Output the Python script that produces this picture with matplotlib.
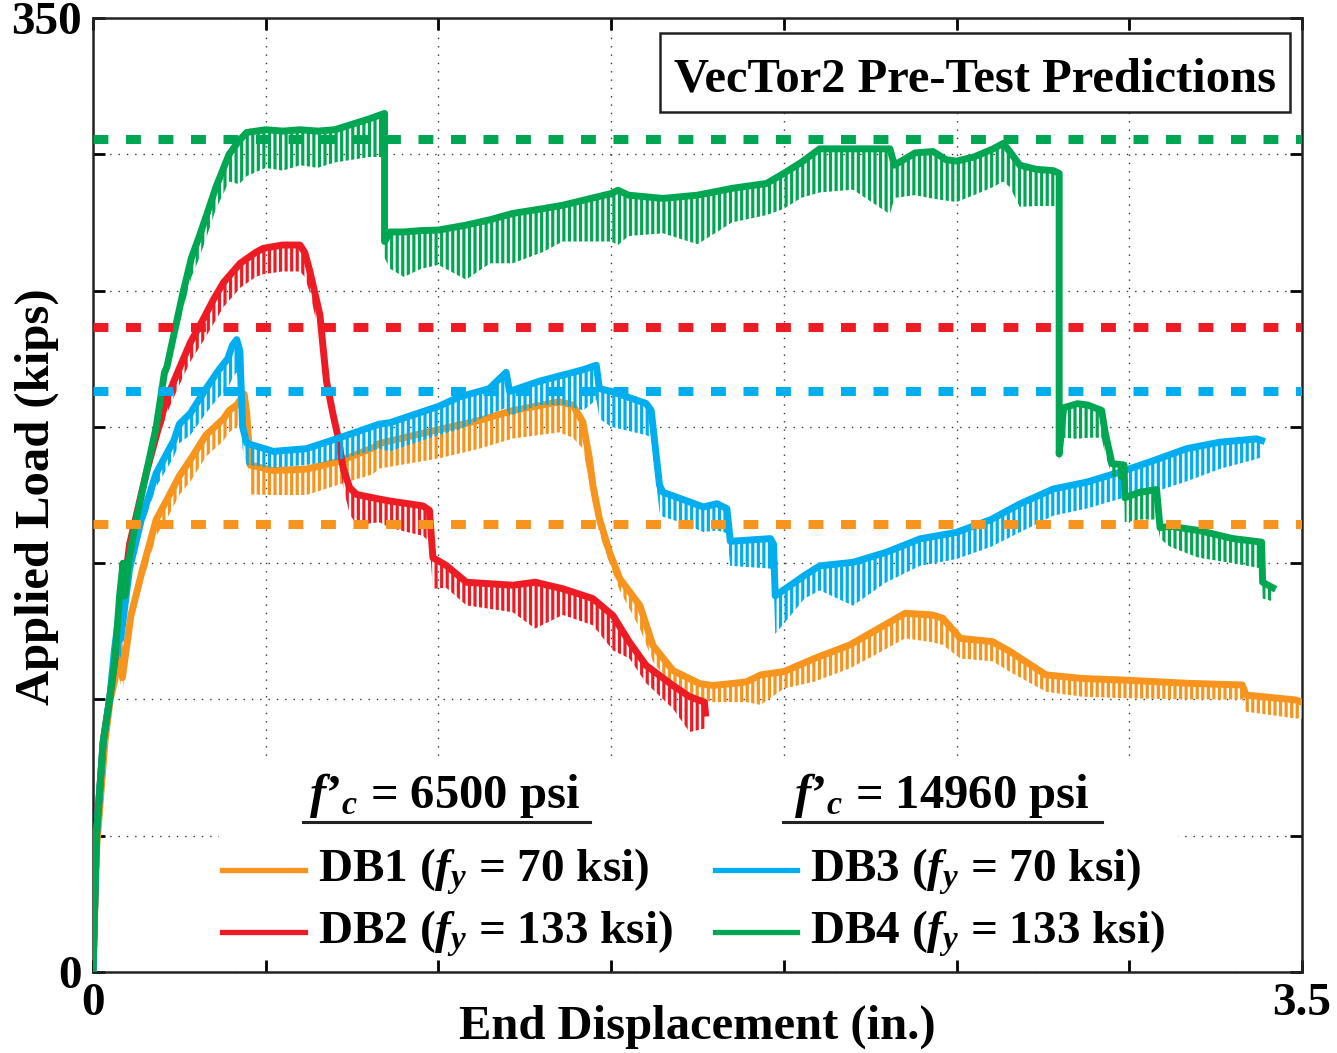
import numpy as np
import matplotlib
matplotlib.use('Agg')
import matplotlib.pyplot as plt
from matplotlib.lines import Line2D
from matplotlib.patches import Rectangle

plt.rcParams['font.family'] = ['Liberation Serif', 'DejaVu Serif']
plt.rcParams['font.weight'] = 'bold'
plt.rcParams['mathtext.fontset'] = 'custom'
plt.rcParams['mathtext.rm'] = 'Liberation Serif:bold'
plt.rcParams['mathtext.it'] = 'Liberation Serif:italic:bold'
plt.rcParams['mathtext.bf'] = 'Liberation Serif:bold'
plt.rcParams['hatch.linewidth'] = 2.3

# ---------------- data ----------------
# DB1 (orange)
db1_x = [0, 0.010, 0.035, 0.05, 0.063, 0.075, 0.085, 0.11, 0.144, 0.183, 0.217, 0.25, 0.282,
         0.327, 0.378, 0.394, 0.416, 0.4375, 0.445, 0.455, 0.522, 0.618, 0.714, 0.81, 0.829,
         1.0, 1.119, 1.215, 1.35, 1.389, 1.418, 1.437, 1.447, 1.466, 1.495, 1.525, 1.583,
         1.621, 1.679, 1.756, 1.795, 1.891, 1.933, 2.0, 2.088, 2.191, 2.274, 2.351, 2.429,
         2.46, 2.511, 2.604, 2.656, 2.759, 2.863, 3.0, 3.172, 3.327, 3.338, 3.482, 3.5]
db1_top = [0, 45, 85, 100, 107, 121, 108, 131, 148, 166, 174, 182, 188,
           197, 203, 206, 208, 212, 205, 186, 184, 184.5, 187.4, 192.3, 193.9,
           199, 202.4, 206, 209.2, 208, 201.8, 188.4, 178.6, 166.3, 154.1, 144.3, 134.5,
           119.8, 110.6, 105.8, 105.1, 106.4, 109, 110.2, 115, 120, 126, 131.6, 131,
           129.8, 122.4, 121.2, 117.5, 109, 107.7, 107, 105.9, 105.3, 101.6, 99.8, 99]
db1_low = [0, 45, 85, 98, 104, 110, 101.8, 126, 143, 160, 167, 175, 180,
           189, 195, 198, 200, 203, 196, 175.2, 175, 175, 178.9, 182.6, 184.7,
           188.4, 192, 195.7, 198, 196, 192, 180, 172, 161, 150, 140, 126,
           114, 104, 100, 99, 99, 98, 104, 106.5, 111.4, 117, 122.4, 121,
           120, 115, 114, 110, 102.8, 101, 100.4, 100, 100, 95.5, 93, 93]

# DB2 (red)
db2_x = [0, 0.010, 0.030, 0.048, 0.077, 0.106, 0.154, 0.186, 0.214, 0.245, 0.282, 0.317, 0.35,
         0.378, 0.426, 0.471, 0.493, 0.548, 0.599, 0.613, 0.628, 0.657, 0.667, 0.676, 0.695,
         0.71, 0.724, 0.743, 0.763, 0.829, 0.859, 0.955, 0.974, 0.984, 1.022, 1.081, 1.215,
         1.28, 1.36, 1.447, 1.505, 1.553, 1.601, 1.679, 1.727, 1.77, 1.773]
db2_top = [0, 50, 85, 100, 128, 157, 183, 198, 210.6, 220, 231, 239, 247,
           253, 260, 264, 265.5, 266.7, 266.7, 264, 257, 241, 228, 216.7, 204.5,
           196, 185, 177.7, 175.2, 173.5, 172.8, 171, 169.4, 152, 149.2, 143, 141.9,
           143, 140.6, 137, 130.8, 121, 112.5, 105.1, 101, 99, 95]
db2_low = [0, 50, 85, 100, 126, 154, 180, 194, 205, 214, 224, 231, 238,
           244, 251, 255, 256, 257, 257, 255, 249, 233, 222, 212, 199,
           190, 178, 168, 164, 165, 163, 160, 157.8, 140.6, 141, 134.5, 132,
           126, 131, 127.2, 118, 115, 106, 96.6, 88, 89.3, 89]

# DB3 (blue)
db3_x = [0, 0.010, 0.030, 0.048, 0.062, 0.072, 0.080, 0.106, 0.14, 0.183, 0.234, 0.25, 0.282,
         0.327, 0.365, 0.39, 0.404, 0.416, 0.425, 0.433, 0.445, 0.522, 0.618, 0.714, 0.829,
         0.859, 1.0, 1.061, 1.147, 1.196, 1.206, 1.291, 1.36, 1.42, 1.457, 1.466, 1.5, 1.601,
         1.616, 1.64, 1.65, 1.7, 1.767, 1.806, 1.835, 1.845, 1.961, 1.97, 1.975, 2.06, 2.104,
         2.2, 2.297, 2.394, 2.5, 2.6, 2.683, 2.78, 2.876, 2.973, 3.07, 3.166, 3.263, 3.369, 3.383]
db3_top = [0, 50, 85, 100, 118, 128, 122, 148, 166, 183, 195, 201, 205,
           214, 221, 225, 230, 232, 228, 200, 194, 191, 192, 196, 201,
           201.5, 207.5, 211, 214, 220, 213, 216.7, 219, 221, 222.6, 214, 213, 208.6,
           206, 178.6, 176, 173.7, 170.6, 171.8, 170, 158, 159, 157, 138, 145.5, 149,
           150.3, 154, 158.9, 161.3, 166, 171.7, 177.2, 179.7, 183.4, 187.6, 192, 194.4, 195.6, 195]
db3_low = [0, 50, 85, 100, 116, 118, 115, 144, 162, 178, 189, 194, 197,
           205, 211, 214, 218, 220, 215, 192, 186, 185, 186, 188, 192,
           191, 197, 199, 204.5, 207, 204, 208, 208, 206, 210, 203, 200, 197,
           196, 168.8, 167, 165, 161.4, 162, 161, 149, 148, 146, 124, 137, 140,
           134.4, 143, 149, 151.5, 156, 161.3, 167.4, 170, 173.6, 176, 180, 184.6, 188.2, 189]

# DB4 (green)
db4_x = [0, 0.010, 0.029, 0.048, 0.063, 0.077, 0.087, 0.092, 0.105, 0.125, 0.154, 0.183, 0.207,
         0.214, 0.236, 0.26, 0.285, 0.308, 0.335, 0.356, 0.394, 0.423, 0.445, 0.50, 0.55, 0.60,
         0.65, 0.70, 0.75, 0.80, 0.844, 0.844, 0.86, 0.90, 0.95, 1.00, 1.08, 1.15, 1.215, 1.30,
         1.36, 1.50, 1.52, 1.55, 1.65, 1.75, 1.85, 1.95, 2.00, 2.05, 2.104, 2.20, 2.307, 2.32,
         2.38, 2.432, 2.47, 2.50, 2.55, 2.606, 2.635, 2.654, 2.683, 2.73, 2.78, 2.797, 2.797,
         2.81, 2.85, 2.88, 2.92, 2.93, 2.95, 2.985, 2.987, 3.03, 3.079, 3.089, 3.118, 3.20,
         3.30, 3.383, 3.386, 3.415]
db4_top = [0, 50, 84, 100, 114, 138, 150, 138, 152, 166, 183, 200, 220,
           222, 235, 249, 262, 270, 280, 288, 300, 305, 308, 309, 308.5, 309,
           308.5, 309, 311, 313, 315, 268, 271.5, 271.5, 272, 272.2, 274, 276, 278.3, 280,
           281.3, 285.6, 286.8, 285, 283.8, 285, 287.5, 289.3, 293, 297, 302, 302, 302, 296,
           300.5, 301, 298, 297.5, 299, 302, 304, 301, 296, 294.5, 294, 293, 190,
           207, 208.5, 208, 206, 198, 186.5, 186, 174, 176, 177, 163, 163.5, 162,
           159, 157.7, 143, 141]
db4_low = [0, 50, 84, 100, 114, 136, 140, 136, 150, 164, 180, 196, 215,
           218, 230, 243, 255, 262, 272, 280, 290, 289, 292, 295, 294, 296,
           295, 297, 298, 299, 299, 262, 258, 255, 258, 259.4, 254, 260, 260, 264,
           268, 268, 266.7, 270, 271, 267, 275, 277.7, 280, 284, 286, 287, 278, 284,
           285, 283.7, 283, 282.5, 285, 288, 290, 288, 280.7, 281, 281, 281, 188,
           196, 195.6, 196, 196, 190, 182, 180, 165, 166, 166, 159, 156, 152,
           150, 148, 137, 136]

# predicted capacities (dashed lines), DB1..DB4
ref_loads = [164.5, 236.5, 213.0, 305.5]

series_names = ['DB1', 'DB2', 'DB3', 'DB4']
colors = ['#F7941D', '#ED1C24', '#00AEEF', '#00A651']
fy_labels = ['70', '133', '70', '133']
fc_labels = ['6500', '14960']

x_ticks = [0, 0.5, 1.0, 1.5, 2.0, 2.5, 3.0, 3.5]
x_ticklabels = ['0', '', '', '', '', '', '', '3.5']
y_ticks = [0, 50, 100, 150, 200, 250, 300, 350]
y_ticklabels = ['0', '', '', '', '', '', '', '350']

# ---------------- figure ----------------
W, H = 1337, 1053
fig = plt.figure(figsize=(W / 100, H / 100), dpi=100)


def fx(px):
    return px / W


def fy(py):
    return 1 - py / H


ax = fig.add_axes([fx(93), fy(972), fx(1302) - fx(93), fy(18) - fy(972)])
ax.set_xlim(0, 3.5)
ax.set_ylim(0, 350)
ax.set_axisbelow(True)
ax.grid(True, color='#333333', linestyle=(0, (1, 5)), linewidth=1.0)

ax.set_xticks(x_ticks)
ax.set_xticklabels(x_ticklabels)
ax.set_yticks(y_ticks)
ax.set_yticklabels(y_ticklabels)
ax.tick_params(direction='in', length=8.5, width=2, top=True, right=True,
               labelsize=34, pad=8, colors='black')
for sp in ax.spines.values():
    sp.set_linewidth(1.8)
    sp.set_color('#222222')

# white area behind the legend (hides grid)
ax.add_patch(Rectangle((fx(219), fy(958)), fx(1178) - fx(219), fy(757) - fy(958),
                       transform=fig.transFigure, facecolor='white', edgecolor='none',
                       zorder=1))

data = [(db1_x, db1_top, db1_low), (db2_x, db2_top, db2_low),
        (db3_x, db3_top, db3_low), (db4_x, db4_top, db4_low)]
for i, ((xs, top, low), c) in enumerate(zip(data, colors)):
    z = 3 + i
    ax.fill_between(xs, low, top, facecolor='none', edgecolor=c, hatch='|||',
                    linewidth=0, zorder=z)
    ax.plot(xs, top, color=c, lw=5.0, zorder=z + 0.5, solid_joinstyle='round')

for v, c in zip(ref_loads, colors):
    ax.axhline(v, color=c, lw=6.5, dashes=(1.65, 1.95), zorder=10)

# title box
ax.add_patch(Rectangle((fx(660), fy(112)), fx(1290) - fx(660), fy(33) - fy(112),
                       transform=fig.transFigure, facecolor='white', edgecolor='#222222',
                       lw=1.8, zorder=11))
fig.text(fx(975), fy(92), 'VecTor2 Pre-Test Predictions', ha='center', va='baseline',
         fontsize=35, fontweight='bold', zorder=12)

# axis labels
fig.text(fx(37), fy(497), 'Applied Load (kips)', rotation=90, ha='center', va='center',
         fontsize=35, fontweight='bold')
fig.text(fx(697), fy(1027), 'End Displacement (in.)', ha='center', va='center',
         fontsize=35, fontweight='bold')

# custom legend
hdr_cx = [445, 942]
hdr_line = [(303, 590), (783, 1102)]
for cx, (l0, l1), fc in zip(hdr_cx, hdr_line, fc_labels):
    fig.text(fx(cx), fy(808), '$f’_c$ = ' + fc + ' psi', ha='center', va='baseline',
             fontsize=35, fontweight='bold')
    fig.add_artist(Line2D([fx(l0), fx(l1)], [fy(822), fy(822)], color='#222222', lw=2.2))

leg_line_x = [(222, 305), (222, 305), (715, 797), (715, 797)]
leg_line_y = [870, 932, 870, 932]
leg_text_x = [318, 318, 810, 810]
leg_base_y = [882, 944, 882, 944]
for name, c, fyl, (l0, l1), ly, tx, by in zip(series_names, colors, fy_labels, leg_line_x,
                                              leg_line_y, leg_text_x, leg_base_y):
    fig.add_artist(Line2D([fx(l0), fx(l1)], [fy(ly), fy(ly)], color=c, lw=3.8))
    fig.text(fx(tx), fy(by), name + ' ($f_y$ = ' + fyl + ' ksi)', ha='left', va='baseline',
             fontsize=34, fontweight='bold')

fig.savefig('out.png', dpi=100)
